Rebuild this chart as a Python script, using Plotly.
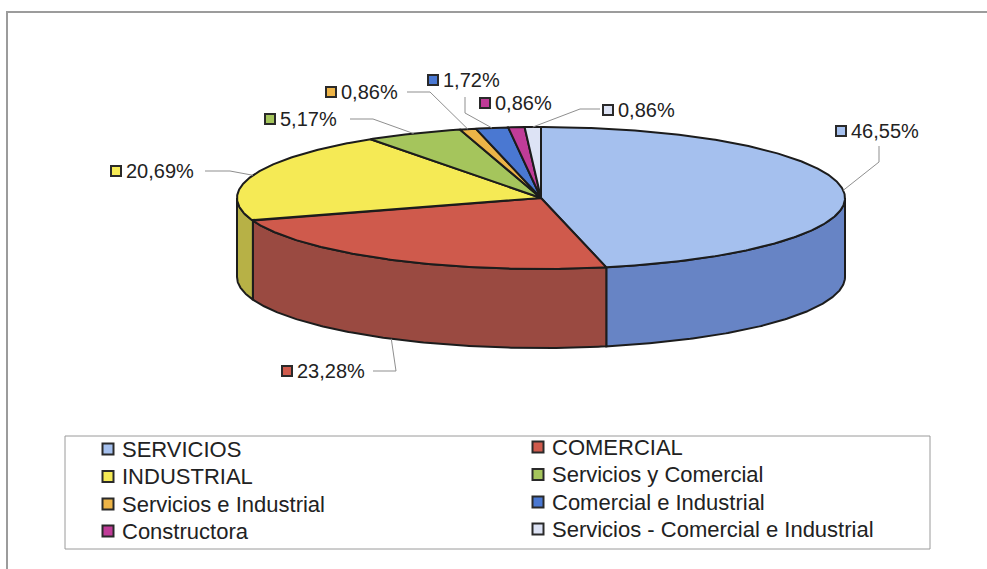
import numpy as np
import plotly.graph_objects as go

# ---- data ----
categories = [
    "SERVICIOS",
    "COMERCIAL",
    "INDUSTRIAL",
    "Servicios y Comercial",
    "Servicios e Industrial",
    "Comercial e Industrial",
    "Constructora",
    "Servicios - Comercial e Industrial",
]
percentages = [46.55, 23.28, 20.69, 5.17, 0.86, 1.72, 0.86, 0.86]

# ---- styling ----
top_colors = ["#A5C0EE", "#CF5A4C", "#F5EA55", "#A5C55C",
              "#EDB447", "#4A78D2", "#C03C98", "#DDE3F5"]
side_colors = ["#6784C5", "#9A4A41", "#B7B146", "#7C9640",
               "#B58634", "#3559A0", "#8E2C71", "#A5ABB8"]
edge_color = "#1c1c1c"
leader_color = "#8f8f8f"
text_color = "#222222"
FONT = "Liberation Sans, Arial, sans-serif"

W, H = 987, 569
# 3-D pie projection (pixel space)
CX, CY = 541, 198
RX, RY = 304, 71
DEPTH = 79

# label marker centres and leader routing (elbow, end) for each slice
label_pos = [(841, 131), (287, 371), (116, 171), (270, 119),
             (331, 92), (433, 80), (485, 103), (608, 110)]
leader_route = [
    [(879, 162), (879, 146)],
    [(396, 371), (373, 371)],
    [(230, 171), (205, 171)],
    [(373, 119), (350, 119)],
    [(430, 92), (407, 92)],
    [(465, 113), (465, 97)],
    None,
    [(580, 109), (600, 109)],
]

# legend layout: two columns, entries filled row by row
LEG_BOX = (65, 436, 930, 549)
LEG_COL_X = [108, 538]
LEG_ROW_Y = [449, 476.5, 504, 531]
LEG_COL_DY = [0, -2]


def rim(theta_deg, dy=0.0):
    t = np.radians(theta_deg)
    return CX + RX * np.sin(t), CY - RY * np.cos(t) + dy


def arc(a0, a1, dy=0.0):
    n = max(3, int(abs(a1 - a0) * 2) + 1)
    th = np.linspace(a0, a1, n)
    xs, ys = rim(th, dy)
    return list(xs), list(ys)


cum = np.concatenate([[0.0], np.cumsum(percentages)])
angles = cum / cum[-1] * 360.0

fig = go.Figure()

# side walls (front half of the cylinder only)
for i in range(len(percentages)):
    lo = max(angles[i], 90.0)
    hi = min(angles[i + 1], 270.0)
    if hi <= lo:
        continue
    xt, yt = arc(lo, hi)
    xb, yb = arc(hi, lo, DEPTH)
    fig.add_trace(go.Scatter(
        x=xt + xb + [xt[0]], y=yt + yb + [yt[0]],
        mode="lines", fill="toself", fillcolor=side_colors[i],
        line=dict(color=edge_color, width=2),
        hoverinfo="skip", showlegend=False))

# top faces
for i in range(len(percentages)):
    xa, ya = arc(angles[i], angles[i + 1])
    fig.add_trace(go.Scatter(
        x=[CX] + xa + [CX], y=[CY] + ya + [CY],
        mode="lines", fill="toself", fillcolor=top_colors[i],
        line=dict(color=edge_color, width=2),
        name=categories[i], hoverinfo="name", showlegend=False))

# leader lines
for i, route in enumerate(leader_route):
    if route is None:
        continue
    mid = (angles[i] + angles[i + 1]) / 2.0
    front = 90.0 < mid < 270.0 and label_pos[i][1] > CY + RY
    sx, sy = rim(mid, DEPTH if front else 0.0)
    xs = [sx] + [p[0] for p in route]
    ys = [sy] + [p[1] for p in route]
    fig.add_trace(go.Scatter(
        x=xs, y=ys, mode="lines",
        line=dict(color=leader_color, width=1),
        hoverinfo="skip", showlegend=False))

# data-label colour keys
fig.add_trace(go.Scatter(
    x=[p[0] for p in label_pos], y=[p[1] for p in label_pos],
    mode="markers",
    marker=dict(symbol="square", size=10, color=top_colors,
                line=dict(color="#2a2a2a", width=2)),
    hoverinfo="skip", showlegend=False))

# data-label texts
for i, (lx, ly) in enumerate(label_pos):
    fig.add_annotation(
        x=lx + 8, y=ly, xref="x", yref="y",
        text=f"{percentages[i]:.2f}".replace(".", ",") + "%",
        showarrow=False, xanchor="left", yanchor="middle",
        font=dict(family=FONT, size=20, color=text_color))

# legend: box, colour keys and names
x0, y0, x1, y1 = LEG_BOX
fig.add_shape(type="rect", xref="x", yref="y", x0=x0, y0=y0, x1=x1, y1=y1,
              line=dict(color="#9a9a9a", width=1), fillcolor="white",
              layer="below")
leg_x, leg_y = [], []
for i, name in enumerate(categories):
    col, row = i % 2, i // 2
    mx = LEG_COL_X[col]
    my = LEG_ROW_Y[row] + LEG_COL_DY[col]
    leg_x.append(mx)
    leg_y.append(my)
    fig.add_annotation(
        x=mx + 12, y=my, xref="x", yref="y", text=name,
        showarrow=False, xanchor="left", yanchor="middle",
        font=dict(family=FONT, size=22, color=text_color))
fig.add_trace(go.Scatter(
    x=leg_x, y=leg_y, mode="markers",
    marker=dict(symbol="square", size=11, color=top_colors,
                line=dict(color="#2a2a2a", width=2)),
    text=categories, hoverinfo="text", showlegend=False))

# outer chart frame
fig.add_shape(type="path", xref="x", yref="y",
              path=f"M 7 {H} L 7 12 L {W} 12",
              line=dict(color="#9c9c9c", width=2))

fig.update_layout(
    width=W, height=H,
    margin=dict(l=0, r=0, t=0, b=0),
    paper_bgcolor="white", plot_bgcolor="white",
    xaxis=dict(range=[0, W], visible=False, fixedrange=True),
    yaxis=dict(range=[H, 0], visible=False, fixedrange=True),
    showlegend=False,
)

fig.write_html("out.html")
